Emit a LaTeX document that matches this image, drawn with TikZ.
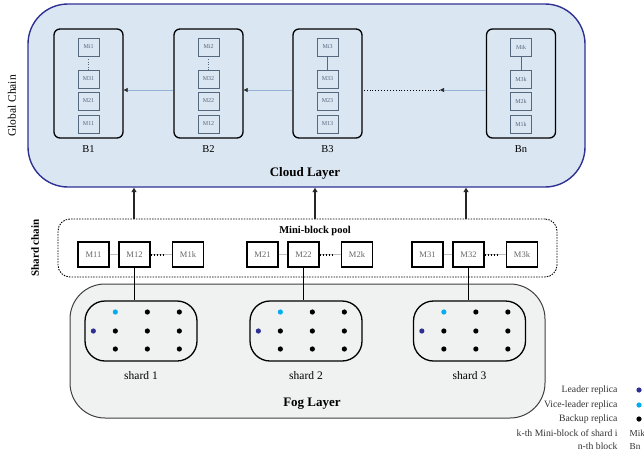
\documentclass[tikz,border=0pt]{standalone}
\usepackage{fontspec}
\setmainfont{Liberation Serif}
\usetikzlibrary{arrows.meta}
\definecolor{cloudfill}{HTML}{DAE6F2}
\definecolor{cloudline}{HTML}{2E3192}
\definecolor{fogfill}{HTML}{F0F1F1}
\definecolor{fogline}{HTML}{404040}
\definecolor{miniline}{HTML}{56687D}
\definecolor{chainline}{HTML}{95B3D7}
\definecolor{leadercol}{HTML}{2E3192}
\definecolor{vicecol}{HTML}{00AEEF}
\tikzset{
  blockbox/.style={draw,line width=1.3pt,rounded corners=6pt,minimum width=69pt,minimum height=109pt},
  cloudmini/.style={draw=miniline,fill=cloudfill,line width=0.9pt,minimum width=21pt,minimum height=18pt,
    inner sep=0pt,text=miniline,font=\fontsize{6}{6}\selectfont},
  poolmini/.style={draw,line width=1.1pt,fill=white,minimum width=31pt,minimum height=25pt,
    inner sep=0pt,text=black!60,font=\fontsize{8.5}{9}\selectfont},
  shardbox/.style={draw,line width=1.3pt,rounded corners=20pt,minimum width=112pt,minimum height=60pt},
  chainarrow/.style={chainline,line width=0.6pt,-{Triangle[color=black!85,length=4pt,width=4pt]}},
  uparrow/.style={line width=2.2pt,black!85,-{Triangle[length=4.5pt,width=5pt]}},
  lightlink/.style={black!25,line width=0.5pt},
  heavydots/.style={line width=2pt,dash pattern=on 1.6pt off 1.4pt},
  legendtxt/.style={anchor=east,text=black!80,font=\fontsize{9.7}{10}\selectfont},
  legendsym/.style={anchor=west,inner sep=0pt,text=black!80,font=\fontsize{9.2}{10}\selectfont}
}
\begin{document}
\begin{tikzpicture}[x=1pt,y=-1pt]
    \clip (0,0) rectangle (644,458);

    % cloud layer with the global chain
    \node[draw=cloudline,fill=cloudfill,line width=1.4pt,rounded corners=40pt,
        minimum width=557pt,minimum height=183pt] (cloud) at (306.5,95.5) {};
    \node[font=\bfseries\fontsize{13}{13}\selectfont] (cloudlbl) at (305,173) {Cloud Layer};
    \node[rotate=90,font=\fontsize{11.5}{12}\selectfont] (gchain) at (12,106) {Global Chain};

    \foreach \name/\x/\i/\lbl/\link in {b1/88.5/1/B1/dotted, b2/208.5/2/B2/dotted,
                                      b3/327.5/3/B3/solid, bn/521/k/Bn/solid} {
        \node[blockbox] (\name) at (\x,83.5) {};
        \begin{scope}[every node/.style={cloudmini}]
            \node (\name-t) at (\x,47) {Mi\i};
            \node (\name-3) at (\x,79) {M3\i};
            \node (\name-2) at (\x,101) {M2\i};
            \node (\name-1) at (\x,124) {M1\i};
        \end{scope}
        \draw[miniline,line width=0.6pt,\link] (\name-t) -- (\name-3);
        \node[font=\fontsize{10.5}{11}\selectfont] (\name-lbl) at ([yshift=-10pt]\name.south) {\lbl};
    }
    \draw[chainarrow] ([yshift=-6.5pt]b2.west) -- ([yshift=-6.5pt]b1.east);
    \draw[chainarrow] ([yshift=-6.5pt]b3.west) -- ([yshift=-6.5pt]b2.east);
    \coordinate (gap) at (440,90);
    \draw[chainarrow] ([yshift=-6.5pt]bn.west) -- (gap);
    \draw[line width=0.9pt,dotted] (gap) -- ([yshift=-6.5pt]b3.east);

    % fog layer with the shards
    \node[draw=fogline,fill=fogfill,line width=1pt,rounded corners=35pt,
        minimum width=475pt,minimum height=134pt] (fog) at (307.5,351) {};
    \node[font=\bfseries\fontsize{13}{13}\selectfont] (foglbl) at (312,404) {Fog Layer};

    \foreach \s/\x in {1/141,2/306,3/469.5} {
        \node[shardbox] (s\s) at (\x,331) {};
        \node[font=\fontsize{11.5}{12}\selectfont] (s\s-lbl) at (\x,375.5) {shard \s};
        \fill[leadercol] ([xshift=9pt]s\s.west) circle[radius=2.6pt];
        \fill[vicecol] ([xshift=31pt,yshift=19pt]s\s.west) circle[radius=2.6pt];
        \foreach \dx/\dy in {31/0,31/-18,63/19,63/0,63/-18,95/19,95/0,95/-18}
            \fill ([xshift=\dx pt,yshift=\dy pt]s\s.west) circle[radius=2.6pt];
    }

    % shard chain
    \node[draw,line width=0.9pt,dash pattern=on 1.5pt off 1.2pt,rounded corners=12pt,
        minimum width=499pt,minimum height=58pt] (pool) at (307.5,248) {};
    \node[font=\bfseries\fontsize{10.5}{11}\selectfont] (poollbl) at (315,231) {Mini-block pool};
    \node[rotate=90,font=\bfseries\fontsize{11}{11}\selectfont] (schain) at (35,248) {Shard chain};

    \foreach \i/\x in {1/93.5,2/262.5,3/427.5} {
        \begin{scope}[every node/.style={poolmini}]
            \node (m\i1) at (\x,254.5) {M\i1};
            \node (m\i2) at (\x+41,254.5) {M\i2};
            \node (m\i k) at (\x+94.5,254.5) {M\i k};
        \end{scope}
        \draw[lightlink] (m\i1) -- (m\i2);
        \draw[lightlink] (m\i2) -- (m\i k);
        \draw[heavydots] (m\i2.east) -- ++(13,0);
        \draw[line width=1.2pt] (m\i2.south) -- (m\i2.south |- s\i.north);
    }
    \foreach \x in {134,315,466}
        \draw[uparrow] (pool.north -| \x,0) -- (cloud.south -| \x,0);

    % legend
    \node[legendtxt] (lg1) at (621,390) {Leader replica};
    \node[legendtxt] (lg2) at (621,405) {Vice-leader replica};
    \node[legendtxt] (lg3) at (621,419) {Backup replica};
    \node[legendtxt] (lg4) at (621,433) {k-th Mini-block of shard i};
    \node[legendtxt] (lg5) at (621,446.5) {n-th block};
    \fill[leadercol] (639,390) circle[radius=2.6pt];
    \fill[vicecol] (639,405) circle[radius=2.6pt];
    \fill (639,419) circle[radius=2.6pt];
    \node[legendsym] (lg4s) at (629.5,433) {Mik};
    \node[legendsym] (lg5s) at (629.5,446.5) {Bn};
\end{tikzpicture}
\end{document}
